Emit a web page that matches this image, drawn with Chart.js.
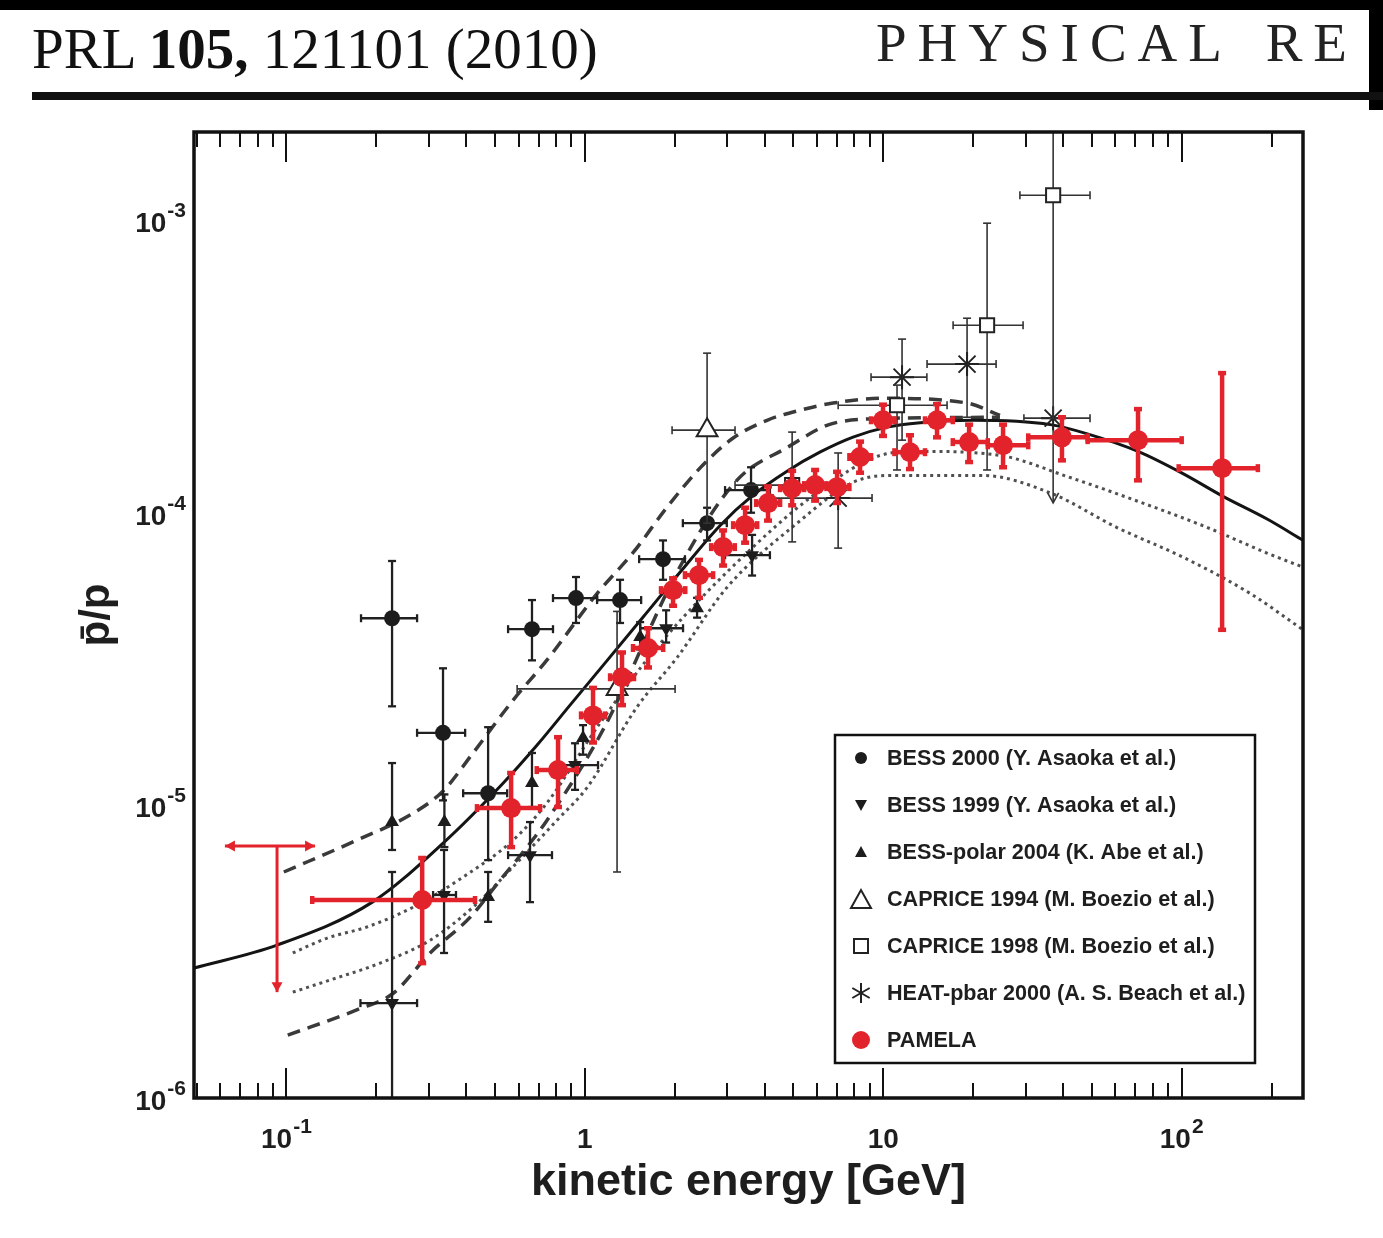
<!DOCTYPE html>
<html>
<head>
<meta charset="utf-8">
<script src="https://cdn.jsdelivr.net/npm/chart.js@4.4.0/dist/chart.umd.min.js"></script>
<style>
html,body{margin:0;padding:0;background:#fff;}
#wrap{position:relative;width:1383px;height:1238px;overflow:hidden;background:#fff;}
#c{position:absolute;left:0;top:0;}
#topband{position:absolute;left:0;top:0;width:1383px;height:10px;background:#000;}
#rightband{position:absolute;left:1369px;top:0;width:14px;height:110px;background:#000;}
#hl{position:absolute;left:32px;top:20px;font:57px/57px "Liberation Serif","Times New Roman",serif;color:#111;white-space:nowrap;}
#hl b{font-weight:bold;}
#hr{position:absolute;left:876px;top:15px;font:55px/55px "Liberation Serif","Times New Roman",serif;letter-spacing:11px;word-spacing:10px;color:#222;white-space:nowrap;}
#rule{position:absolute;left:32px;top:92px;width:1351px;height:8px;background:#111;}
</style>
</head>
<body>
<div id="wrap">
<canvas id="c" width="1383" height="1238"></canvas>
<div id="topband"></div>
<div id="rightband"></div>
<div id="hl">PRL <b>105,</b> 121101 (2010)</div>
<div id="hr">PHYSICAL RE</div>
<div id="rule"></div>
</div>
<script>
// ---------- axis ticks / labels ----------
const xTickVals = [0.1, 1, 10, 100];
const xTickBase = ['10', '1', '10', '10'];
const xTickExp  = ['-1', '', '', '2'];
const yTickVals = [1e-6, 1e-5, 1e-4, 1e-3];
const yTickBase = ['10', '10', '10', '10'];
const yTickExp  = ['-6', '-5', '-4', '-3'];
const xTitle = 'kinetic energy [GeV]';
const yTitle = 'p\u0304/p';
const legendLabels = [
  'BESS 2000 (Y. Asaoka et al.)',
  'BESS 1999 (Y. Asaoka et al.)',
  'BESS-polar 2004 (K. Abe et al.)',
  'CAPRICE 1994 (M. Boezio et al.)',
  'CAPRICE 1998 (M. Boezio et al.)',
  'HEAT-pbar 2000 (A. S. Beach et al.)',
  'PAMELA'
];

// ---------- PAMELA ----------
const pamE   = [0.285, 0.566, 0.813, 1.065, 1.332, 1.628, 1.975, 2.413, 2.905, 3.443, 4.11, 4.95, 5.91, 7.0, 8.36, 9.98, 12.29, 15.14, 19.39, 25.2, 39.7, 71.4, 136.6];
const pamV   = [4.75e-6, 9.79e-6, 1.32e-5, 2.03e-5, 2.74e-5, 3.45e-5, 5.44e-5, 6.12e-5, 7.63e-5, 9.07e-5, 1.079e-4, 1.213e-4, 1.243e-4, 1.223e-4, 1.55e-4, 2.07e-4, 1.61e-4, 2.07e-4, 1.743e-4, 1.70e-4, 1.81e-4, 1.77e-4, 1.42e-4];
const pamXlo = [0.122, 0.435, 0.69, 0.971, 1.215, 1.45, 1.80, 2.165, 2.65, 3.14, 3.75, 4.51, 5.43, 6.45, 7.7, 9.1, 10.9, 13.8, 17.1, 22.4, 30.6, 48.4, 97.7];
const pamXhi = [0.4285, 0.708, 0.94, 1.169, 1.461, 1.83, 2.17, 2.69, 3.18, 3.78, 4.51, 5.43, 6.45, 7.7, 9.1, 10.9, 13.8, 17.1, 22.4, 30.6, 48.4, 100, 180];
const pamYlo = [2.89e-6, 7.2e-6, 9.87e-6, 1.64e-5, 2.2e-5, 2.96e-5, 4.81e-5, 5.12e-5, 6.6e-5, 7.9e-5, 9.4e-5, 1.06e-4, 1.1e-4, 1.08e-4, 1.37e-4, 1.83e-4, 1.41e-4, 1.81e-4, 1.49e-4, 1.43e-4, 1.51e-4, 1.29e-4, 3.98e-5];
const pamYhi = [6.61e-6, 1.29e-5, 1.71e-5, 2.52e-5, 3.33e-5, 4.03e-5, 5.97e-5, 6.9e-5, 8.7e-5, 1.04e-4, 1.23e-4, 1.39e-4, 1.4e-4, 1.38e-4, 1.75e-4, 2.34e-4, 1.84e-4, 2.35e-4, 2.0e-4, 2.0e-4, 2.12e-4, 2.26e-4, 3.0e-4];
// PAMELA upper limit (lowest bin)
const pamUlE = [0.093];
const pamUlV = [7.26e-6];
const pamUlXlo = [0.0622];
const pamUlXhi = [0.1247];
const pamUlArrow = [2.3e-6];

// ---------- BESS 2000 ----------
const b2kE   = [0.2259, 0.3347, 0.474, 0.665, 0.934, 1.312, 1.828, 2.568, 3.605];
const b2kV   = [4.36e-5, 1.77e-5, 1.10e-5, 4.0e-5, 5.11e-5, 5.03e-5, 6.94e-5, 9.21e-5, 1.195e-4];
const b2kXlo = [0.1778, 0.274, 0.391, 0.553, 0.782, 1.099, 1.52, 2.13, 2.95];
const b2kXhi = [0.274, 0.397, 0.549, 0.782, 1.099, 1.544, 2.165, 2.99, 4.17];
const b2kYlo = [2.18e-5, 1.04e-5, 6.5e-6, 3.13e-5, 4.2e-5, 4.2e-5, 5.9e-5, 8.04e-5, 1.0e-4];
const b2kYhi = [6.84e-5, 2.94e-5, 1.85e-5, 5.03e-5, 6.03e-5, 5.9e-5, 8.04e-5, 1.04e-4, 1.43e-4];

// ---------- BESS 1999 ----------
const b99E   = [0.2259, 0.3374, 0.655, 0.927, 1.872, 3.634];
const b99V   = [2.11e-6, 4.94e-6, 6.76e-6, 1.373e-5, 4.03e-5, 7.16e-5];
const b99Xlo = [0.177, 0.31, 0.553, 0.807, 1.533, 2.95];
const b99Xhi = [0.274, 0.37, 0.776, 1.107, 2.133, 4.17];
const b99Ylo = [8e-7, 3.13e-6, 4.67e-6, 1.13e-5, 3.6e-5, 6.1e-5];
const b99Yhi = [5.92e-6, 7.04e-6, 8.77e-6, 1.63e-5, 4.64e-5, 8.4e-5];

// ---------- BESS-polar 2004 ----------
const bpE   = [0.2259, 0.3383, 0.474, 0.665, 0.986, 1.532, 2.377];
const bpV   = [8.77e-6, 8.77e-6, 4.86e-6, 1.192e-5, 1.70e-5, 3.76e-5, 4.72e-5];
const bpYlo = [7.04e-6, 7.2e-6, 4.0e-6, 9.87e-6, 1.49e-5, 3.41e-5, 4.38e-5];
const bpYhi = [1.395e-5, 1.09e-5, 5.92e-6, 1.51e-5, 1.88e-5, 4.23e-5, 5.12e-5];

// ---------- CAPRICE 1994 ----------
const c94E   = [1.282, 2.568];
const c94V   = [2.5e-5, 1.915e-4];
const c94Xlo = [0.593, 1.96];
const c94Xhi = [2.006, 3.186];
const c94Ylo = [5.92e-6, 9.21e-5];
const c94Yhi = [4.6e-5, 3.51e-4];

// ---------- CAPRICE 1998 ----------
const c98E   = [4.95, 11.12, 22.28, 37.09];
const c98V   = [1.243e-4, 2.33e-4, 4.37e-4, 1.216e-3];
const c98Xlo = [3.186, 7.06, 17.14, 28.7];
const c98Xhi = [7.06, 16.36, 29.41, 49.3];
const c98Ylo = [7.95e-5, 1.40e-4, 1.40e-4, 2.1e-4];
const c98Yhi = [1.886e-4, 2.73e-4, 9.76e-4, 3e-3];

// ---------- HEAT-pbar 2000 ----------
const heatE   = [7.06, 11.56, 19.09];
const heatV   = [1.122e-4, 2.906e-4, 3.22e-4];
const heatXlo = [4.27, 9.1, 14.02];
const heatXhi = [9.17, 14.0, 23.88];
const heatYlo = [7.57e-5, 1.77e-4, 2.12e-4];
const heatYhi = [1.6e-4, 3.92e-4, 4.62e-4];
const heatUlE = [37.09];
const heatUlV = [2.105e-4];
const heatUlXlo = [29.6];
const heatUlXhi = [49.3];
const heatUlArrow = [1.08e-4];

// ---------- model curves ----------
const solidE = [0.049, 0.093, 0.194, 0.335, 0.532, 0.692, 0.892, 1.568, 2.087, 2.84, 3.66, 4.76, 6.13, 7.92, 10.3, 13.3, 20, 36.3, 48.3, 71.4, 101, 137, 194, 255];
const solidV = [2.78e-6, 3.33e-6, 4.67e-6, 7.43e-6, 1.19e-5, 1.607e-5, 2.2e-5, 4.4e-5, 6.27e-5, 9.05e-5, 1.148e-4, 1.387e-4, 1.61e-4, 1.813e-4, 1.961e-4, 2.03e-4, 2.07e-4, 2.0e-4, 1.86e-4, 1.62e-4, 1.36e-4, 1.14e-4, 9.5e-5, 8.05e-5];
const dashHiE = [0.098, 0.172, 0.263, 0.335, 0.42, 0.575, 0.747, 1.10, 1.45, 1.88, 2.43, 3.14, 4.08, 5.26, 6.79, 10.0, 19.1, 24.6];
const dashHiV = [5.92e-6, 7.6e-6, 9.34e-6, 1.12e-5, 1.5e-5, 2.29e-5, 3.14e-5, 5.3e-5, 7.3e-5, 1.04e-4, 1.42e-4, 1.80e-4, 2.07e-4, 2.24e-4, 2.37e-4, 2.46e-4, 2.37e-4, 2.15e-4];
const dashLoE = [0.101, 0.172, 0.228, 0.303, 0.413, 0.52, 0.64, 0.747, 1.15, 2.08, 3.23, 4.76, 6.79, 10.4, 24.6];
const dashLoV = [1.64e-6, 2.0e-6, 2.28e-6, 3.13e-6, 4.15e-6, 5.55e-6, 7.2e-6, 8.9e-6, 1.81e-5, 6.52e-5, 1.29e-4, 1.67e-4, 2.02e-4, 2.1e-4, 2.12e-4];
const dotHiE = [0.105, 0.137, 0.186, 0.266, 0.391, 0.575, 0.747, 1.12, 1.79, 3.66, 6.13, 9.77, 13.3, 24.6, 41.3, 68.6, 122, 193, 255];
const dotHiV = [3.13e-6, 3.52e-6, 3.84e-6, 4.49e-6, 5.69e-6, 7.61e-6, 1.02e-5, 1.9e-5, 3.58e-5, 7.63e-5, 1.19e-4, 1.57e-4, 1.62e-4, 1.57e-4, 1.33e-4, 1.11e-4, 8.9e-5, 7.28e-5, 6.52e-5];
const dotLoE = [0.105, 0.14, 0.206, 0.303, 0.422, 0.574, 0.807, 1.017, 1.496, 2.037, 2.996, 5.14, 7.92, 10.3, 21.6, 36.2, 60.7, 101, 169.5, 255];
const dotLoV = [2.30e-6, 2.53e-6, 2.89e-6, 3.46e-6, 4.49e-6, 6.16e-6, 8.9e-6, 1.15e-5, 2.17e-5, 3.2e-5, 5.56e-5, 9.2e-5, 1.27e-4, 1.34e-4, 1.34e-4, 1.17e-4, 8.9e-5, 7.05e-5, 5.3e-5, 3.98e-5];

// ---------- build ----------
const pts = (xs, ys) => xs.map((x, i) => ({x: x, y: ys[i]}));
const RED = '#e3232b';
const BLK = '#1c1c1c';
const SANS = '"Liberation Sans", Arial, Helvetica, sans-serif';

function curve(label, xs, ys, dash, width, color) {
  return {label, data: pts(xs, ys), showLine: true, pointRadius: 0, borderColor: color,
    borderWidth: width, borderDash: dash, cubicInterpolationMode: 'monotone', order: 10, fill: false};
}

const datasets = [
  curve('model (solid)', solidE, solidV, [], 3, '#141414'),
  curve('model upper (dashed)', dashHiE, dashHiV, [13, 8], 3.5, '#3a3a3a'),
  curve('model lower (dashed)', dashLoE, dashLoV, [13, 8], 3.5, '#3a3a3a'),
  curve('model upper (dotted)', dotHiE, dotHiV, [3, 4], 3, '#505050'),
  curve('model lower (dotted)', dotLoE, dotLoV, [3, 4], 3, '#505050'),
  {label: legendLabels[0], data: pts(b2kE, b2kV), pointStyle: 'circle', pointRadius: 8, backgroundColor: BLK, borderColor: BLK, borderWidth: 0, order: 5,
   errbar: {xlo: b2kXlo, xhi: b2kXhi, ylo: b2kYlo, yhi: b2kYhi, color: '#202020', width: 2.3, cap: 4}},
  {label: legendLabels[1], data: pts(b99E, b99V), pointStyle: 'triangle', rotation: 180, pointRadius: 8, backgroundColor: BLK, borderColor: BLK, borderWidth: 0, order: 5,
   errbar: {xlo: b99Xlo, xhi: b99Xhi, ylo: b99Ylo, yhi: b99Yhi, color: '#202020', width: 2.3, cap: 4}},
  {label: legendLabels[2], data: pts(bpE, bpV), pointStyle: 'triangle', pointRadius: 8, backgroundColor: BLK, borderColor: BLK, borderWidth: 0, order: 5,
   errbar: {ylo: bpYlo, yhi: bpYhi, color: '#202020', width: 2.3, cap: 4}},
  {label: legendLabels[3], data: pts(c94E, c94V), pointStyle: 'triangle', pointRadius: 12, backgroundColor: '#fff', borderColor: '#222', borderWidth: 2, order: 4,
   errbar: {xlo: c94Xlo, xhi: c94Xhi, ylo: c94Ylo, yhi: c94Yhi, color: '#333', width: 1.6, cap: 4}},
  {label: legendLabels[4], data: pts(c98E, c98V), pointStyle: 'rect', pointRadius: 10, backgroundColor: '#fff', borderColor: '#222', borderWidth: 2, order: 4,
   errbar: {xlo: c98Xlo, xhi: c98Xhi, ylo: c98Ylo, yhi: c98Yhi, color: '#333', width: 1.6, cap: 4}},
  {label: legendLabels[5], data: pts(heatE, heatV), pointStyle: 'star', pointRadius: 12, backgroundColor: '#222', borderColor: '#222', borderWidth: 2, order: 4,
   errbar: {xlo: heatXlo, xhi: heatXhi, ylo: heatYlo, yhi: heatYhi, color: '#333', width: 1.6, cap: 4}},
  {label: legendLabels[5] + ' upper limit', data: pts(heatUlE, heatUlV), pointStyle: 'star', pointRadius: 12, backgroundColor: '#222', borderColor: '#222', borderWidth: 2, order: 4,
   errbar: {xlo: heatUlXlo, xhi: heatUlXhi, ylo: heatUlArrow, color: '#333', width: 1.6, cap: 4, arrowDown: 'open'}},
  {label: legendLabels[6] + ' upper limit', data: pts(pamUlE, pamUlV), pointRadius: 0, backgroundColor: RED, borderColor: RED, order: 1,
   errbar: {xlo: pamUlXlo, xhi: pamUlXhi, ylo: pamUlArrow, color: RED, width: 3, cap: 0, arrowDown: 'filled', arrowX: true}},
  {label: legendLabels[6], data: pts(pamE, pamV), pointStyle: 'circle', pointRadius: 10, backgroundColor: RED, borderColor: RED, borderWidth: 0, order: 1,
   errbar: {xlo: pamXlo, xhi: pamXhi, ylo: pamYlo, yhi: pamYhi, color: RED, width: 4.5, cap: 4}}
];

// ---------- plugins ----------
function seg(ctx, x1, y1, x2, y2) { ctx.beginPath(); ctx.moveTo(x1, y1); ctx.lineTo(x2, y2); ctx.stroke(); }
function arrowHead(ctx, x, y, dx, dy, style) {
  const L = 10, W = 5.5;
  const bx = x - dx * L, by = y - dy * L;
  const px = -dy, py = dx;
  ctx.beginPath();
  ctx.moveTo(bx + px * W, by + py * W);
  ctx.lineTo(x, y);
  ctx.lineTo(bx - px * W, by - py * W);
  if (style === 'filled') { ctx.closePath(); ctx.fill(); } else { ctx.stroke(); }
}
const errPlugin = {
  id: 'errbars',
  beforeDatasetDraw(chart, args) {
    const ds = chart.data.datasets[args.index];
    const e = ds.errbar; if (!e) return;
    const {ctx, chartArea: a} = chart;
    const xs = chart.scales.x, ys = chart.scales.y;
    ctx.save();
    ctx.beginPath(); ctx.rect(a.left, a.top, a.right - a.left, a.bottom - a.top); ctx.clip();
    ctx.strokeStyle = e.color; ctx.fillStyle = e.color; ctx.lineWidth = e.width; ctx.lineCap = 'butt';
    const c = e.cap;
    ds.data.forEach((p, i) => {
      const px = xs.getPixelForValue(p.x), py = ys.getPixelForValue(p.y);
      if (e.xlo && e.xlo[i] != null) {
        const x1 = xs.getPixelForValue(e.xlo[i]), x2 = xs.getPixelForValue(e.xhi[i]);
        seg(ctx, x1, py, x2, py);
        if (e.arrowX) { arrowHead(ctx, x1, py, -1, 0, 'filled'); arrowHead(ctx, x2, py, 1, 0, 'filled'); }
        else if (c) { seg(ctx, x1, py - c, x1, py + c); seg(ctx, x2, py - c, x2, py + c); }
      }
      if (e.ylo && e.ylo[i] != null) {
        const y1 = ys.getPixelForValue(e.ylo[i]);
        const y2 = (e.yhi && e.yhi[i] != null) ? ys.getPixelForValue(e.yhi[i]) : py;
        seg(ctx, px, y1, px, y2);
        if (e.arrowDown) { arrowHead(ctx, px, y1, 0, 1, e.arrowDown); }
        else if (c) { seg(ctx, px - c, y1, px + c, y1); }
        if (c && e.yhi && e.yhi[i] != null) { seg(ctx, px - c, y2, px + c, y2); }
      }
    });
    ctx.restore();
  }
};

const framePlugin = {
  id: 'frame',
  afterDatasetsDraw(chart) {
    const {ctx, chartArea: a} = chart;
    const xs = chart.scales.x, ys = chart.scales.y;
    ctx.save();
    ctx.strokeStyle = '#111'; ctx.lineWidth = 2; ctx.lineCap = 'butt';
    for (let d = -2; d <= 3; d++) {
      for (let k = 1; k <= 9; k++) {
        const v = k * Math.pow(10, d);
        if (v >= xs.min && v <= xs.max) {
          const px = Math.round(xs.getPixelForValue(v));
          const L = k === 1 ? 30 : 15;
          seg(ctx, px, a.bottom, px, a.bottom - L);
          seg(ctx, px, a.top, px, a.top + L);
        }
        if (v >= ys.min && v <= ys.max) {
          const py = Math.round(ys.getPixelForValue(v));
          const L = k === 1 ? 35 : 18;
          seg(ctx, a.left, py, a.left + L, py);
          seg(ctx, a.right, py, a.right - L, py);
        }
      }
    }
    ctx.lineWidth = 3.5;
    ctx.strokeRect(a.left, a.top, a.right - a.left, a.bottom - a.top);
    ctx.restore();
  }
};

// tick labels with real superscripts, placed by the scales
const tickLabelPlugin = {
  id: 'ticklabels',
  afterDraw(chart) {
    const {ctx, chartArea: a} = chart;
    const xs = chart.scales.x, ys = chart.scales.y;
    const fb = 'bold 28px ' + SANS, fe = 'bold 21px ' + SANS;
    ctx.save();
    ctx.fillStyle = '#1e1e1e'; ctx.textBaseline = 'alphabetic'; ctx.textAlign = 'left';
    xTickVals.forEach((v, i) => {
      const px = xs.getPixelForValue(v);
      ctx.font = fb; const wb = ctx.measureText(xTickBase[i]).width;
      ctx.font = fe; const we = xTickExp[i] ? ctx.measureText(xTickExp[i]).width + 1 : 0;
      const x0 = px - (wb + we) / 2;
      ctx.font = fb; ctx.fillText(xTickBase[i], x0, a.bottom + 50);
      if (xTickExp[i]) { ctx.font = fe; ctx.fillText(xTickExp[i], x0 + wb + 1, a.bottom + 35); }
    });
    yTickVals.forEach((v, i) => {
      const py = ys.getPixelForValue(v);
      ctx.font = fb; const wb = ctx.measureText(yTickBase[i]).width;
      ctx.font = fe; const we = ctx.measureText(yTickExp[i]).width + 1;
      const x0 = a.left - 8 - (wb + we);
      ctx.font = fb; ctx.fillText(yTickBase[i], x0, py + 12);
      ctx.font = fe; ctx.fillText(yTickExp[i], x0 + wb + 1, py - 3);
    });
    ctx.restore();
  }
};

function legendMarker(ctx, kind, x, y) {
  ctx.save();
  ctx.fillStyle = BLK; ctx.strokeStyle = '#222'; ctx.lineWidth = 2;
  if (kind === 0) { ctx.beginPath(); ctx.arc(x, y, 6, 0, 2 * Math.PI); ctx.fill(); }
  else if (kind === 1) { ctx.beginPath(); ctx.moveTo(x - 6, y - 5); ctx.lineTo(x + 6, y - 5); ctx.lineTo(x, y + 6); ctx.closePath(); ctx.fill(); }
  else if (kind === 2) { ctx.beginPath(); ctx.moveTo(x - 6, y + 5); ctx.lineTo(x + 6, y + 5); ctx.lineTo(x, y - 6); ctx.closePath(); ctx.fill(); }
  else if (kind === 3) { ctx.beginPath(); ctx.moveTo(x - 10, y + 9); ctx.lineTo(x + 10, y + 9); ctx.lineTo(x, y - 9); ctx.closePath(); ctx.stroke(); }
  else if (kind === 4) { ctx.strokeRect(x - 7, y - 7, 14, 14); }
  else if (kind === 5) {
    for (let k = 0; k < 3; k++) { const an = Math.PI / 2 + k * Math.PI / 3; seg(ctx, x - 10 * Math.cos(an), y - 10 * Math.sin(an), x + 10 * Math.cos(an), y + 10 * Math.sin(an)); }
  }
  else if (kind === 6) { ctx.fillStyle = RED; ctx.beginPath(); ctx.arc(x, y, 9, 0, 2 * Math.PI); ctx.fill(); }
  ctx.restore();
}

const legendPlugin = {
  id: 'boxlegend',
  afterDraw(chart) {
    const {ctx, chartArea: a} = chart;
    const bx = a.right - 468, by = a.top + 603, bw = 420, bh = 328;
    ctx.save();
    ctx.fillStyle = '#fff'; ctx.fillRect(bx, by, bw, bh);
    ctx.strokeStyle = '#111'; ctx.lineWidth = 2.5; ctx.strokeRect(bx, by, bw, bh);
    ctx.font = 'bold 21.6px ' + SANS;
    ctx.textBaseline = 'middle'; ctx.textAlign = 'left';
    legendLabels.forEach((t, i) => {
      const yy = by + 23 + i * 47;
      legendMarker(ctx, i, bx + 26, yy);
      ctx.fillStyle = '#1e1e1e';
      ctx.fillText(t, bx + 52, yy + 1);
    });
    ctx.restore();
  }
};

new Chart(document.getElementById('c'), {
  type: 'scatter',
  data: {datasets},
  options: {
    responsive: false,
    animation: false,
    events: [],
    layout: {padding: {left: 0, right: 80, top: 132, bottom: 0}},
    plugins: {legend: {display: false}, tooltip: {enabled: false}},
    scales: {
      x: {
        type: 'logarithmic', position: 'bottom', min: 0.049, max: 255,
        afterBuildTicks: (s) => { s.ticks = xTickVals.map(v => ({value: v, major: true})); },
        afterFit: (s) => { s.height = 140; },
        ticks: {display: false, callback: (v, i) => xTickBase[i] + (xTickExp[i] ? '^' + xTickExp[i] : ''), autoSkip: false, maxRotation: 0},
        grid: {display: false, drawTicks: false},
        border: {display: false},
        title: {display: true, text: xTitle, color: '#1e1e1e', padding: {top: 0, bottom: 28},
                font: {family: SANS, size: 45, weight: 'bold'}}
      },
      y: {
        type: 'logarithmic', position: 'left', min: 1e-6, max: 2e-3,
        afterBuildTicks: (s) => { s.ticks = yTickVals.map(v => ({value: v, major: true})); },
        afterFit: (s) => { s.width = 194; },
        ticks: {display: false, callback: (v, i) => yTickBase[i] + '^' + yTickExp[i], autoSkip: false},
        grid: {display: false, drawTicks: false},
        border: {display: false},
        title: {display: true, text: yTitle, color: '#1e1e1e', padding: {top: 72, bottom: 0},
                font: {family: SANS, size: 42, weight: 'bold'}}
      }
    }
  },
  plugins: [errPlugin, framePlugin, tickLabelPlugin, legendPlugin]
});
</script>
</body>
</html>
